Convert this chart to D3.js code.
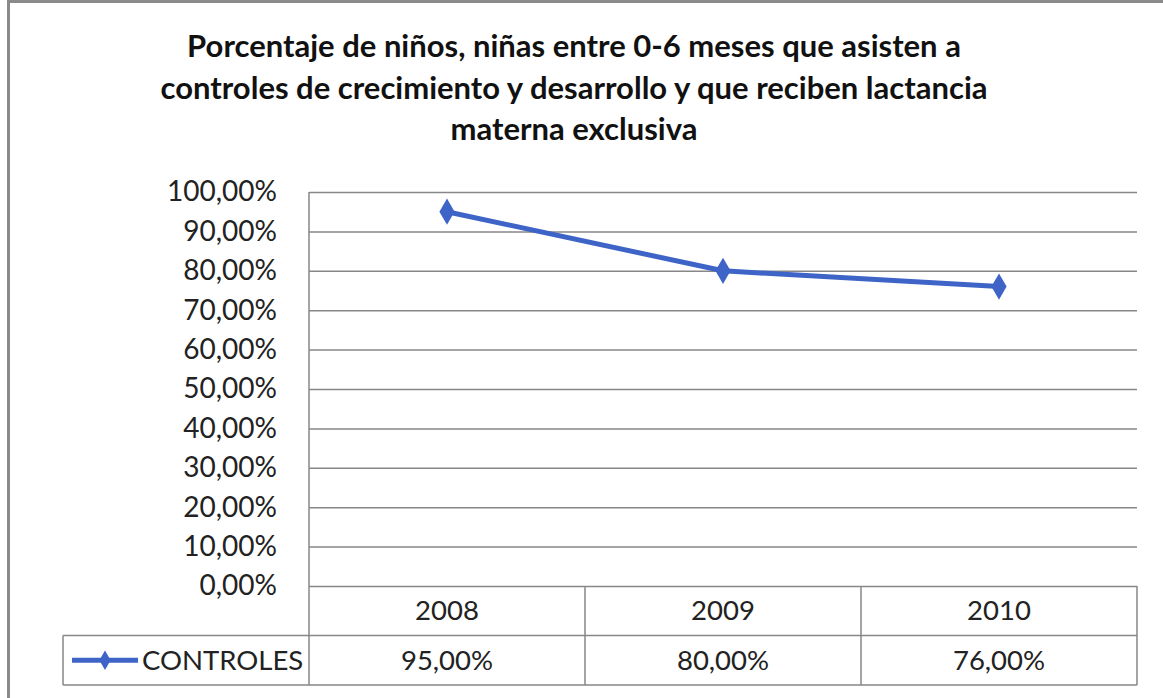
<!DOCTYPE html>
<html>
  <head>
    <title>Porcentaje de controles</title>
    <meta charset="UTF-8" />
    <style>
      body { margin: 0; background: #fff; }
      text { font-family: Lato, "Open Sans", sans-serif; }
    </style>
  </head>
  <body>
    <script src="https://cdn.jsdelivr.net/npm/d3@7/dist/d3.min.js"></script>
    <script>
      // chart data
      var titleLines = [
        "Porcentaje de niños, niñas entre 0-6 meses que asisten a",
        "controles de crecimiento y desarrollo y que reciben lactancia",
        "materna exclusiva"
      ];
      var years = ["2008", "2009", "2010"];
      var seriesName = "CONTROLES";
      var controles = [0.95, 0.80, 0.76];
      var yTicks = [0, 0.1, 0.2, 0.3, 0.4, 0.5, 0.6, 0.7, 0.8, 0.9, 1.0];

      var width = 1163, height = 698;
      var plotLeft = 309, plotRight = 1137, plotTop = 192, plotBottom = 586;
      var rowH = 49.5;
      var legendLeft = 63;
      var gridColor = "#878787";
      var blue = "#3d64c6";
      var labelSize = "27.5px";

      var locale = d3.formatLocale({decimal: ",", thousands: ".", grouping: [3], currency: ["", ""]});
      var pct = locale.format(".2%");

      var svg = d3.select("body")
        .append("svg")
        .attr("width", width)
        .attr("height", height);

      // outer frame (only top and left edges show in the picture)
      svg.append("line")
        .attr("x1", 8).attr("x2", width).attr("y1", 1.5).attr("y2", 1.5)
        .style("stroke", "#8a8a8a").style("stroke-width", 3);
      svg.append("line")
        .attr("x1", 8.5).attr("x2", 8.5).attr("y1", 0).attr("y2", height)
        .style("stroke", "#8a8a8a").style("stroke-width", 3);

      // title
      svg.append("g").selectAll("text")
        .data(titleLines)
        .enter()
        .append("text")
        .attr("x", 574)
        .attr("y", function(d, i) { return 57 + i * 41.5; })
        .attr("text-anchor", "middle")
        .style("font-weight", "bold")
        .style("font-size", "31px")
        .style("fill", "#111")
        .text(function(d) { return d; });

      var x = d3.scaleBand().domain(years).range([plotLeft, plotRight]);
      var y = d3.scaleLinear().domain([0, 1]).range([plotBottom, plotTop]);

      // gridlines + y labels
      var yAxis = svg.append("g")
        .attr("transform", "translate(" + plotLeft + ",0)")
        .call(d3.axisLeft(y).tickValues(yTicks).tickFormat(pct)
              .tickSize(-(plotRight - plotLeft)).tickPadding(32));
      yAxis.select(".domain").remove();
      yAxis.selectAll(".tick line")
        .style("stroke", gridColor).style("stroke-width", 1.5);
      yAxis.selectAll(".tick text")
        .style("font-family", "Lato, sans-serif")
        .style("font-size", "28px")
        .style("fill", "#222")
        .attr("dy", "0.32em");

      // plot left edge
      svg.append("line")
        .attr("x1", plotLeft).attr("x2", plotLeft)
        .attr("y1", plotTop).attr("y2", plotBottom + 2 * rowH)
        .style("stroke", gridColor).style("stroke-width", 1.5);

      // data table
      var table = svg.append("g");
      var hLines = [
        {y: plotBottom + rowH, x1: legendLeft},
        {y: plotBottom + 2 * rowH, x1: legendLeft}
      ];
      table.selectAll("line.h")
        .data(hLines)
        .enter()
        .append("line")
        .attr("x1", function(d) { return d.x1; })
        .attr("x2", plotRight)
        .attr("y1", function(d) { return d.y; })
        .attr("y2", function(d) { return d.y; })
        .style("stroke", gridColor).style("stroke-width", 1.5);

      table.selectAll("line.v")
        .data(years.slice(1).map(function(d) { return x(d); }).concat([plotRight]))
        .enter()
        .append("line")
        .attr("x1", function(d) { return d; })
        .attr("x2", function(d) { return d; })
        .attr("y1", plotBottom)
        .attr("y2", plotBottom + 2 * rowH)
        .style("stroke", gridColor).style("stroke-width", 1.5);

      table.append("line")
        .attr("x1", legendLeft).attr("x2", legendLeft)
        .attr("y1", plotBottom + rowH).attr("y2", plotBottom + 2 * rowH)
        .style("stroke", gridColor).style("stroke-width", 1.5);

      table.selectAll("text.year")
        .data(years)
        .enter()
        .append("text")
        .attr("x", function(d) { return x(d) + x.bandwidth() / 2; })
        .attr("y", plotBottom + rowH / 2)
        .attr("dy", "0.35em")
        .attr("text-anchor", "middle")
        .style("font-size", labelSize)
        .style("fill", "#222")
        .text(function(d) { return d; });

      table.selectAll("text.val")
        .data(controles)
        .enter()
        .append("text")
        .attr("x", function(d, i) { return x(years[i]) + x.bandwidth() / 2; })
        .attr("y", plotBottom + rowH * 1.5)
        .attr("dy", "0.35em")
        .attr("text-anchor", "middle")
        .style("font-size", labelSize)
        .style("fill", "#222")
        .text(function(d) { return pct(d); });

      // legend key
      var keyY = plotBottom + rowH * 1.5;
      table.append("line")
        .attr("x1", 72).attr("x2", 138)
        .attr("y1", keyY).attr("y2", keyY)
        .style("stroke", blue).style("stroke-width", 5);
      table.append("path")
        .attr("d", d3.symbol().type(d3.symbolDiamond).size(110)())
        .attr("transform", "translate(105," + keyY + ")")
        .style("fill", blue);
      table.append("text")
        .attr("x", 142)
        .attr("y", keyY)
        .attr("dy", "0.35em")
        .style("font-size", labelSize)
        .style("fill", "#222")
        .text(seriesName);

      // series line
      var line = d3.line()
        .x(function(d, i) { return x(years[i]) + x.bandwidth() / 2; })
        .y(function(d) { return y(d); });

      svg.append("path")
        .datum(controles)
        .attr("d", line)
        .style("fill", "none")
        .style("stroke", blue)
        .style("stroke-width", 5)
        .style("stroke-linejoin", "round");

      svg.append("g").selectAll("path")
        .data(controles)
        .enter()
        .append("path")
        .attr("d", d3.symbol().type(d3.symbolDiamond).size(200)())
        .attr("transform", function(d, i) {
          return "translate(" + (x(years[i]) + x.bandwidth() / 2) + "," + y(d) + ")";
        })
        .style("fill", blue);
    </script>
  </body>
</html>
